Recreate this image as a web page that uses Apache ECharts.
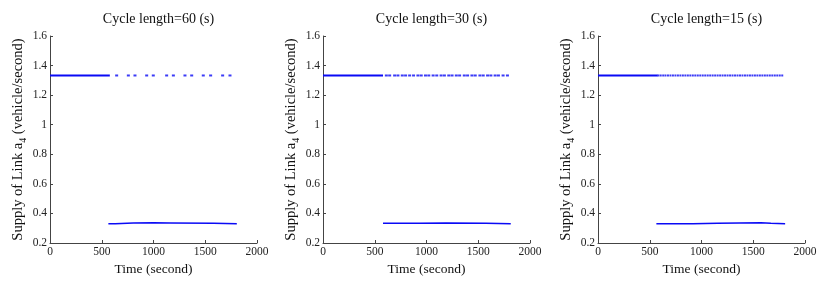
<!DOCTYPE html>
<html>
<head>
<meta charset="utf-8">
<script src="https://cdn.jsdelivr.net/npm/echarts@6/dist/echarts.min.js"></script>
<style>
html,body{margin:0;padding:0;background:#fff;}
#c{width:830px;height:297px;}
</style>
</head>
<body>
<div id="c"></div>
<script>
// ---- data ----
const panelTitles = ['Cycle length=60 (s)', 'Cycle length=30 (s)', 'Cycle length=15 (s)'];
const xTickValues = [0, 500, 1000, 1500, 2000];
const yTickValues = [0.2, 0.4, 0.6, 0.8, 1, 1.2, 1.4, 1.6];
const highValue = 1.333;
const solidStart = [0, 0, 0];
const solidEnd = [578, 580, 577];
// sampled high-supply instants after t=580 (short dashes)
const highDots60 = [644, 757, 821, 934, 998, 1127, 1192, 1304, 1369, 1481, 1552, 1668, 1739];
const highDots30 = [612, 644, 692, 724, 766, 798, 837, 875, 917, 949, 990, 1022, 1064, 1099, 1141, 1173,
                    1215, 1247, 1288, 1320, 1365, 1397, 1439, 1471, 1516, 1548, 1590, 1622, 1663, 1695, 1740, 1782];
const highDots15 = [584, 606, 630, 652, 676, 700, 724, 748, 772, 796, 820, 844, 868, 892, 916, 940, 964, 988,
                    1012, 1036, 1060, 1084, 1108, 1132, 1156, 1180, 1204, 1228, 1252, 1276, 1300, 1324, 1348,
                    1372, 1396, 1420, 1444, 1468, 1492, 1516, 1540, 1564, 1588, 1612, 1636, 1660, 1684, 1708,
                    1732, 1756, 1780];
// low-supply level (step values) after t=580
const lowTimes60 = [564, 630, 805, 1000, 1160, 1580, 1805];
const lowValues60 = [0.330, 0.335, 0.337, 0.336, 0.333, 0.331, 0.331];
const lowTimes30 = [580, 932, 1189, 1574, 1814];
const lowValues30 = [0.333, 0.336, 0.333, 0.330, 0.330];
const lowTimes15 = [564, 916, 1157, 1574, 1670, 1808];
const lowValues15 = [0.331, 0.334, 0.337, 0.334, 0.331, 0.331];

const highDots = [highDots60, highDots30, highDots15];
const lowTimes = [lowTimes60, lowTimes30, lowTimes15];
const lowValues = [lowValues60, lowValues30, lowValues15];

// ---- layout / style ----
const gridLefts = [50, 323, 598];
const gridW = 207, gridTop = 36, gridH = 207;
const FONT = 'Liberation Serif';
const BLUE = '#0a0af5';
const AXIS = '#444';
const dotSizes = [[3, 2], [3, 2], [2, 2]];

const chart = echarts.init(document.getElementById('c'));
const grids = [], xAxes = [], yAxes = [], series = [], titles = [];

for (let i = 0; i < 3; i++) {
  grids.push({left: gridLefts[i], top: gridTop, width: gridW, height: gridH});
  titles.push({
    text: panelTitles[i], left: gridLefts[i] + gridW / 2, top: 7, textAlign: 'center',
    textStyle: {fontFamily: FONT, fontSize: 14, fontWeight: 'normal', color: '#111'}
  });
  xAxes.push({
    type: 'value', gridIndex: i, min: xTickValues[0], max: xTickValues[xTickValues.length - 1], interval: 500,
    name: 'Time (second)', nameLocation: 'middle', nameGap: 13,
    nameTextStyle: {fontFamily: FONT, fontSize: 13.5, color: '#111'},
    axisLine: {show: true, lineStyle: {color: AXIS, width: 1}},
    axisTick: {show: true, inside: true, length: 3, lineStyle: {color: AXIS}},
    axisLabel: {fontFamily: FONT, fontSize: 11.5, color: '#222', margin: 3, formatter: v => String(v)},
    splitLine: {show: false}
  });
  yAxes.push({
    type: 'value', gridIndex: i, min: yTickValues[0], max: yTickValues[yTickValues.length - 1], interval: 0.2,
    name: '{n|Supply of Link a}{s|4}{n| (vehicle/second)}', nameLocation: 'middle', nameGap: 22, nameRotate: 90,
    nameTextStyle: {
      fontFamily: FONT, fontSize: 14.5, color: '#111',
      rich: {
        n: {fontFamily: FONT, fontSize: 14.5, color: '#111', lineHeight: 17, verticalAlign: 'top'},
        s: {fontFamily: FONT, fontSize: 10, color: '#111', lineHeight: 10, padding: [10, 0, 0, 0], verticalAlign: 'bottom'}
      }
    },
    axisLine: {show: true, lineStyle: {color: AXIS, width: 1}},
    axisTick: {show: true, inside: true, length: 3, lineStyle: {color: AXIS}},
    axisLabel: {fontFamily: FONT, fontSize: 11.5, color: '#222', margin: 3,
      formatter: v => (Math.round(v * 10) / 10).toString()},
    splitLine: {show: false}
  });
  // solid high segment
  series.push({
    type: 'line', xAxisIndex: i, yAxisIndex: i, silent: true, symbol: 'none', animation: false,
    data: [[solidStart[i], highValue], [solidEnd[i], highValue]],
    lineStyle: {color: BLUE, width: 2}
  });
  // high dashes
  series.push({
    type: 'scatter', xAxisIndex: i, yAxisIndex: i, silent: true, animation: false,
    symbol: 'rect', symbolSize: dotSizes[i],
    data: highDots[i].map(t => [t, highValue]),
    itemStyle: {color: BLUE}
  });
  // low level
  series.push({
    type: 'line', xAxisIndex: i, yAxisIndex: i, silent: true, symbol: 'none', animation: false, step: 'end',
    data: lowTimes[i].map((t, k) => [t, lowValues[i][k]]),
    lineStyle: {color: BLUE, width: 1.5}
  });
}

chart.setOption({
  animation: false,
  backgroundColor: '#fff',
  title: titles,
  grid: grids,
  xAxis: xAxes,
  yAxis: yAxes,
  series: series
});
</script>
</body>
</html>
